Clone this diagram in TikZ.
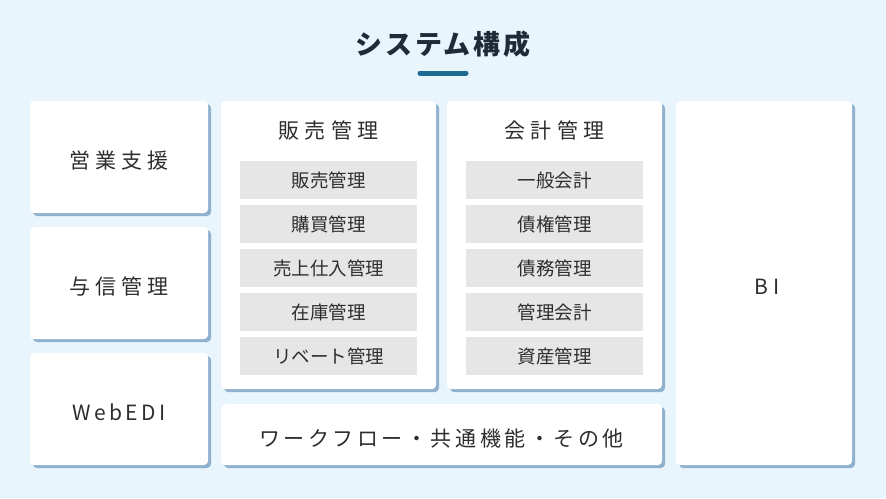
\documentclass[tikz,border=0pt]{standalone}
\usepackage{fontspec}
\usepackage{xcolor}
\usepackage{tikz}
\usetikzlibrary{shadows}

\setmainfont{Noto Sans CJK JP}
\newfontfamily\jpwide[LetterSpace=25]{Noto Sans CJK JP}
\newfontfamily\jpmid[LetterSpace=17]{Noto Sans CJK JP}
\newfontfamily\jptitle[LetterSpace=10]{Noto Sans CJK JP}

\definecolor{bgblue}{HTML}{E8F5FD}
\definecolor{shadowblue}{HTML}{8FB1CE}
\definecolor{itemgray}{HTML}{E6E6E6}
\definecolor{textdark}{HTML}{2E2E2E}
\definecolor{titledark}{HTML}{1F2B36}
\definecolor{barblue}{HTML}{1D6A93}

\begin{document}
\begin{tikzpicture}[
  x=1pt, y=-1pt,
  card/.style={rectangle, fill=white, rounded corners=4pt, inner sep=0pt,
    drop shadow={shadow xshift=3pt, shadow yshift=-3pt, fill=shadowblue, opacity=1},
    text height=23pt, text depth=0pt,
    font=\fontsize{21}{25}\jpwide, text=textdark},
  sidebox/.style={card, minimum width=178pt, minimum height=112pt},
  panel/.style={card, minimum width=215pt, minimum height=288pt},
  item/.style={rectangle, fill=itemgray, inner sep=0pt, minimum width=177pt, minimum height=38pt,
    font=\fontsize{18.5}{22}\selectfont, text=textdark},
  heading/.style={font=\fontsize{21}{25}\jpwide, text=textdark}
]
  % background and page size
  \fill[bgblue] (0,0) rectangle (886,498);
  \useasboundingbox (0,0) rectangle (886,498);

  % title
  \node[font=\fontsize{27}{32}\jptitle\bfseries, text=titledark] (title) at (443,44) {システム構成};
  \coordinate (barl) at (420,73);
  \coordinate (barr) at (466,73);
  \draw[barblue, line width=5pt, line cap=round] (barl) -- (barr);

  % left column
  \node[sidebox] (eigyo)  at (119,157) {営業支援};
  \node[sidebox] (yoshin) at (119,283) {与信管理};
  \node[sidebox, font=\fontsize{21}{25}\jpmid] (webedi) at (119,409) {WebEDI};

  % sales panel
  \node[panel] (hanbai) at (328.5,245) {};
  \node[heading] (hanbaiT) at (328.5,130) {販売管理};
  \node[item] (h1) at (328.5,180) {販売管理};
  \node[item] (h2) at (328.5,224) {購買管理};
  \node[item] (h3) at (328.5,268) {売上仕入管理};
  \node[item] (h4) at (328.5,312) {在庫管理};
  \node[item] (h5) at (328.5,356) {リベート管理};

  % accounting panel
  \node[panel] (kaikei) at (554.5,245) {};
  \node[heading] (kaikeiT) at (554.5,130) {会計管理};
  \node[item] (k1) at (554.5,180) {一般会計};
  \node[item] (k2) at (554.5,224) {債権管理};
  \node[item] (k3) at (554.5,268) {債務管理};
  \node[item] (k4) at (554.5,312) {管理会計};
  \node[item] (k5) at (554.5,356) {資産管理};

  % bottom bar and BI
  \node[card, font=\fontsize{21}{25}\jpmid, minimum width=441pt, minimum height=61pt] (wf) at (441.5,434.5) {ワークフロー・共通機能・その他};
  \node[card, minimum width=176pt, minimum height=364pt] (bi) at (764,283) {\hspace*{6pt}B\hspace{6pt}I};
\end{tikzpicture}
\end{document}
